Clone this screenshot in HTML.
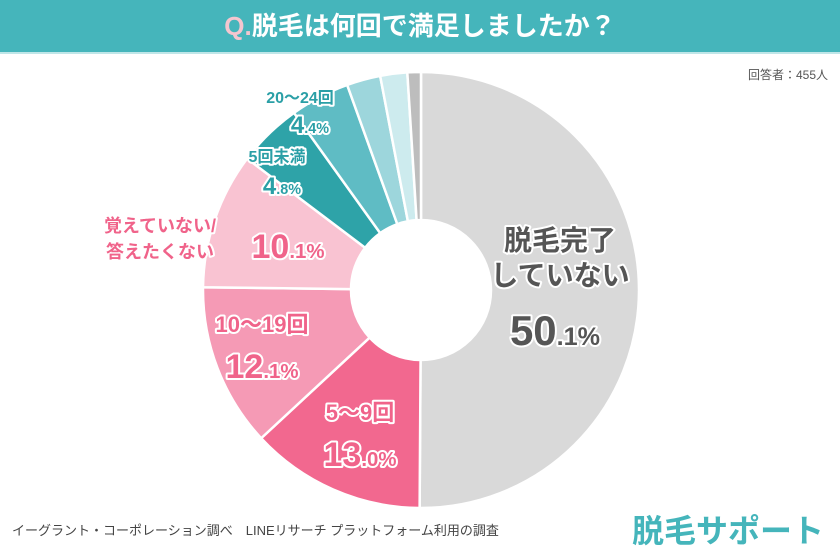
<!DOCTYPE html>
<html><head><meta charset="utf-8"><style>
body{margin:0;width:840px;height:560px;background:#fff;overflow:hidden;font-family:"Liberation Sans","Noto Sans CJK JP",sans-serif}
.hdr{position:absolute;left:0;top:0;width:840px;height:52px;background:#45b5bb;color:#fff;text-align:center;font-size:26px;font-weight:bold;line-height:52px;border-bottom:2px solid #bfe6e8}
.hdr span{color:#f4c6cf}
svg text{font-family:"Liberation Sans","Noto Sans CJK JP",sans-serif;font-weight:bold;paint-order:stroke;stroke:#fff;stroke-width:4px;stroke-linejoin:round}
</style></head><body>
<div class="hdr"><span>Q.</span>脱毛は何回で満足しましたか？</div>
<div style="position:absolute;right:12px;top:66px;font-size:12px;color:#555">回答者：455人</div>
<div style="position:absolute;left:12px;top:520px;font-size:13px;color:#444">イーグラント・コーポレーション調べ　LINEリサーチ プラットフォーム利用の調査</div>
<div style="position:absolute;right:16px;top:506px;font-size:32px;font-weight:bold;color:#45b5bb">脱毛サポート</div>
<svg id="chart" width="840" height="560" style="position:absolute;left:0;top:0"></svg>
<script>
const categories=["脱毛完了していない","5〜9回","10〜19回","覚えていない/答えたくない","5回未満","20〜24回","その他A","その他B","その他C"];
const values=[50.1,13.0,12.1,10.1,4.8,4.4,2.5,2.0,1.0];
const colors=["#d9d9d9","#f2688f","#f59ab5","#f9c3d2","#2ea3a8","#5fbcc4","#9dd6dc","#cdebee","#bdbdbd"];
const svg=document.getElementById('chart');
const NS='http://www.w3.org/2000/svg';
const cx=421,cy=290,R=218,r=70;
const total=values.reduce((a,b)=>a+b,0);
function pt(a,rad){return [cx+rad*Math.sin(a),cy-rad*Math.cos(a)];}
let acc=0;
values.forEach((v,i)=>{
  const a0=acc/total*2*Math.PI;acc+=v;const a1=acc/total*2*Math.PI;
  const large=(a1-a0)>Math.PI?1:0;
  const [x0,y0]=pt(a0,R),[x1,y1]=pt(a1,R),[x2,y2]=pt(a1,r),[x3,y3]=pt(a0,r);
  const p=document.createElementNS(NS,'path');
  p.setAttribute('d',`M${x0},${y0}A${R},${R} 0 ${large} 1 ${x1},${y1}L${x2},${y2}A${r},${r} 0 ${large} 0 ${x3},${y3}Z`);
  p.setAttribute('fill',colors[i]);p.setAttribute('stroke','#fff');p.setAttribute('stroke-width','2.5');
  
  
  svg.appendChild(p);
});
function t(x,y,s,size,fill,name,anchor){
  const e=document.createElementNS(NS,'text');
  e.setAttribute('x',x);e.setAttribute('y',y);e.setAttribute('font-size',size);e.setAttribute('fill',fill);
  e.setAttribute('text-anchor',anchor||'middle');e.innerHTML=s;
  
  
  svg.appendChild(e);
}
const sm=s=>`<tspan font-size="60%">${s}</tspan>`;
function pct(i){const s=values[i].toFixed(1).split('.');return s[0]+sm('.'+s[1]+'%');}
t(560,250,'脱毛完了',28,'#555','label-not-complete');
t(560,285,'していない',28,'#555','label-not-complete-2');
t(555,345,pct(0),42,'#555','value-not-complete');
t(360,420,'5〜9回',22,'#f0638a','label-5-9');
t(360,466,pct(1),34,'#f0638a','value-5-9');
t(262,332,'10〜19回',22,'#f0638a','label-10-19');
t(262,378,pct(2),34,'#f0638a','value-10-19');
t(160,232,'覚えていない/',18,'#f0638a','label-unknown');
t(160,258,'答えたくない',18,'#f0638a','label-unknown-2');
t(288,258,pct(3),34,'#f0638a','value-unknown');
t(277,162,'5回未満',16,'#2a9fa6','label-under5');
t(282,194,pct(4),24,'#2a9fa6','value-under5');
t(300,103,'20〜24回',16,'#2a9fa6','label-20-24');
t(310,133,pct(5),24,'#2a9fa6','value-20-24');
</script>
</body></html>
